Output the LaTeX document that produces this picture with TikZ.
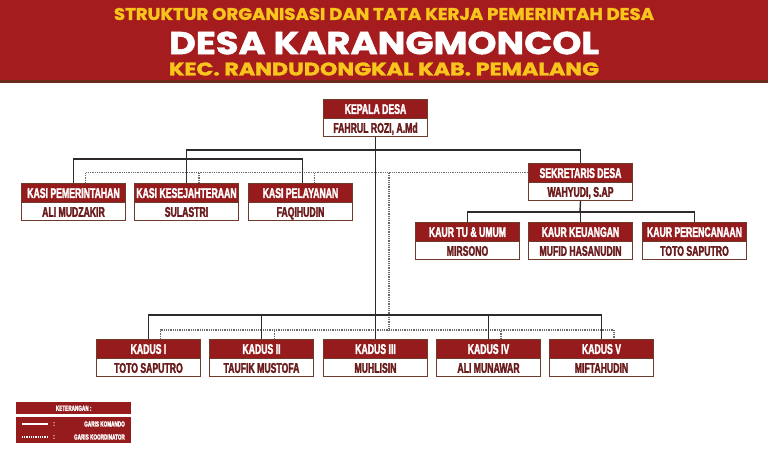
\documentclass[tikz,border=0pt]{standalone}
\usepackage{fontspec}
\usepackage{graphicx}
\newfontfamily\headfont[FakeBold=1.5]{Poppins Bold}
\newfontfamily\boxfont[FakeStretch=0.62, FakeBold=2]{Liberation Sans Bold}
\definecolor{hdred}{HTML}{A51C1F}
\definecolor{hddark}{HTML}{6B2A1A}
\definecolor{hdyellow}{HTML}{F8C51C}
\definecolor{boxred}{HTML}{951B1D}
\definecolor{boxline}{HTML}{6E3A2C}
\definecolor{nametxt}{HTML}{6A1C1C}
\definecolor{linecol}{HTML}{2E2A2A}
\definecolor{dotcol}{HTML}{6A6A6A}
\newcommand\orgbox[5]{%
  \node[orgframe] (#1) at (#2,#3) {};
  \node[band] (#1t) at (#1.north) {#4};
  \node[person] (#1p) at ([yshift=9.2pt]#1.south) {#5};
}
\tikzset{
  orgframe/.style={draw=boxline, line width=1pt, fill=white, minimum width=104pt,
    minimum height=37pt, inner sep=0pt, anchor=north west},
  band/.style={draw=boxline, line width=0.8pt, fill=boxred, anchor=north, minimum width=104pt,
    minimum height=19pt, inner sep=0pt, text=white, text height=10pt, text depth=0pt,
    font=\boxfont\fontsize{14}{14}\selectfont},
  person/.style={inner sep=0pt, text=nametxt, text height=10pt, text depth=0pt,
    font=\boxfont\fontsize{14}{14}\selectfont},
  cmd/.style={draw=linecol, line width=1.4pt},
  coord/.style={draw=dotcol, line width=1.1pt, dash pattern=on 1pt off 0.8pt},
  hdtext/.style={inner sep=0pt, font=\headfont},
  legtxt/.style={inner sep=0pt, text=white, font=\boxfont\fontsize{7.5}{7.5}\selectfont},
}
\begin{document}
\begin{tikzpicture}[x=1pt,y=-1pt]
\useasboundingbox (0,0) rectangle (768,461);
\fill[white] (0,0) rectangle (768,461);
% header
\fill[hdred] (0,0) rectangle (768,80);
\fill[hddark] (0,80) rectangle (768,82.5);
\node[hdtext, text=hdyellow] (h1) at (384,14) {\resizebox{540pt}{12pt}{STRUKTUR ORGANISASI DAN TATA KERJA PEMERINTAH DESA}};
\node[hdtext, text=white] (h2) at (384,43) {\resizebox{430pt}{22.5pt}{DESA KARANGMONCOL}};
\node[hdtext, text=hdyellow] (h3) at (384,69) {\resizebox{430pt}{13pt}{KEC. RANDUDONGKAL KAB. PEMALANG}};

% junction coordinates
\coordinate (jA) at (376,150);
\coordinate (jB) at (187,159);
\coordinate (jC) at (580,212);
\coordinate (jD) at (376,315);
\coordinate (dB) at (389,330);

% boxes
\orgbox{kades}{323}{99}{KEPALA DESA}{FAHRUL ROZI, A.Md}
\orgbox{kasi1}{21}{183}{KASI PEMERINTAHAN}{ALI MUDZAKIR}
\orgbox{kasi2}{134}{183}{KASI KESEJAHTERAAN}{SULASTRI}
\orgbox{kasi3}{248}{183}{KASI PELAYANAN}{FAQIHUDIN}
\orgbox{sekdes}{528}{163}{SEKRETARIS DESA}{WAHYUDI, S.AP}
\orgbox{kaur1}{415}{222}{KAUR TU \& UMUM}{MIRSONO}
\orgbox{kaur2}{528}{222}{KAUR KEUANGAN}{MUFID HASANUDIN}
\orgbox{kaur3}{642}{222}{KAUR PERENCANAAN}{TOTO SAPUTRO}
\orgbox{kadus1}{96}{339}{KADUS I}{TOTO SAPUTRO}
\orgbox{kadus2}{209}{339}{KADUS II}{TAUFIK MUSTOFA}
\orgbox{kadus3}{323}{339}{KADUS III}{MUHLISIN}
\orgbox{kadus4}{436}{339}{KADUS IV}{ALI MUNAWAR}
\orgbox{kadus5}{549}{339}{KADUS V}{MIFTAHUDIN}

% dotted (koordinator) lines
\draw[coord] ([xshift=12pt]kasi1.north) |- (sekdest.west);
\draw[coord] ([xshift=12.5pt]kasi2.north) -- ([xshift=12.5pt]kasi2.north |- sekdest.west);
\draw[coord] ([xshift=14pt]kasi3.north) -- ([xshift=14pt]kasi3.north |- sekdest.west);
\draw[coord] (dB |- sekdest.west) -- (dB);
\draw[coord] ([xshift=12pt]kadus1.north) |- ([xshift=12.5pt]kadus5.north |- dB) -- ([xshift=12.5pt]kadus5.north);
\draw[coord] ([xshift=13pt]kadus2.north) -- ([xshift=13pt]kadus2.north |- dB);
\draw[coord] ([xshift=12.5pt]kadus4.north) -- ([xshift=12.5pt]kadus4.north |- dB);

% solid (komando) lines
\draw[cmd] (kades.south) -- (kadus3t.north);
\draw[cmd] (kasi2t.north) -- (kasi2t.north |- jA) -- (sekdest.north |- jA) -- (sekdest.north);
\draw[cmd] (kasi1t.north) -- (kasi1t.north |- jB) -- ([xshift=2pt]kasi3t.north |- jB) -- ([xshift=2pt]kasi3t.north);
\draw[cmd] (sekdes.south) -- (jC);
\draw[cmd] (kaur1t.north) -- (kaur1t.north |- jC) -- (kaur3t.north |- jC) -- (kaur3t.north);
\draw[cmd] (kaur2t.north) -- (kaur2t.north |- jC);
\draw[cmd] (kadus1t.north) -- (kadus1t.north |- jD) -- (kadus5t.north |- jD) -- (kadus5t.north);
\draw[cmd] (kadus2t.north) -- (kadus2t.north |- jD);
\draw[cmd] (kadus4t.north) -- (kadus4t.north |- jD);

% legend
\node[fill=boxred, minimum width=115pt, minimum height=12pt, inner sep=0pt, anchor=north west] (legtop) at (16,402) {};
\node[legtxt] (legtitle) at (legtop.center) {KETERANGAN :};
\node[fill=boxred, minimum width=115pt, minimum height=26pt, inner sep=0pt, anchor=north west] (legbody) at (16,417) {};
\coordinate (l1a) at (22,424);
\coordinate (l1b) at (48,424);
\coordinate (l2a) at (22,437);
\coordinate (l2b) at (48,437);
\draw[white, line width=1.2pt] (l1a) -- (l1b);
\draw[white, line width=1.2pt, dash pattern=on 1pt off 0.8pt] (l2a) -- (l2b);
\node[legtxt] (c1) at (54,424) {:};
\node[legtxt] (c2) at (54,437) {:};
\node[legtxt, anchor=east] (g1) at (125,424) {GARIS KOMANDO};
\node[legtxt, anchor=east] (g2) at (125,437) {GARIS KOORDINATOR};
\end{tikzpicture}
\end{document}
